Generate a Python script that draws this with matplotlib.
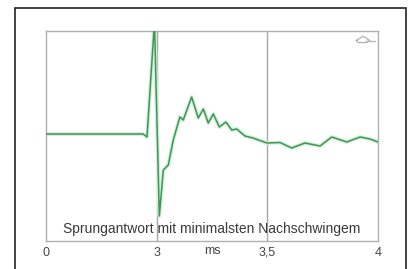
import numpy as np
import matplotlib.pyplot as plt
from matplotlib.patches import Rectangle

##-----------DATA-----------##
# time in ms, amplitude relative to the start level
time_ms = [0.0, 2.63, 2.738, 2.941, 3.012, 3.030, 3.0525, 3.075, 3.105, 3.120,
           3.158, 3.188, 3.211, 3.233, 3.256, 3.283, 3.313, 3.339, 3.362, 3.399,
           3.435, 3.498, 3.557, 3.610, 3.670, 3.738, 3.791, 3.859, 3.919, 3.964, 4.0]
amplitude = [0.0, 0.0, -0.03, 1.12, -0.82, -0.36, -0.31, -0.06, 0.17, 0.14,
             0.37, 0.16, 0.25, 0.11, 0.20, 0.07, 0.12, 0.04, 0.05, -0.02,
             -0.04, -0.09, -0.085, -0.14, -0.09, -0.12, -0.03, -0.08, -0.03, -0.05, -0.08]
tick_values = [0, 3, 3.5, 4]
tick_labels = ['0', '3', '3,5', '4']
title = 'Sprungantwort mit minimalsten Nachschwingem'

##-----------AXIS SCALE-----------##
# 0..3 ms squeezed into one third, 3..4 ms stretched over two thirds
def fwd(t):
	t = np.asarray(t, dtype=float)
	return np.where(t < 3, t / 3.0, 1 + (t - 3) * 2)
def inv(u):
	u = np.asarray(u, dtype=float)
	return np.where(u < 1, u * 3.0, 3 + (u - 1) / 2)

##-----------FIGURE-----------##
plt.rcParams['font.family'] = ['Liberation Sans', 'DejaVu Sans']
fig = plt.figure(figsize=(4.08, 2.69), dpi=100)
W, H = 408.0, 269.0
# outer frame
fig.patches.append(Rectangle((15/W, -0.05), (406-15)/W, (269-8)/H + 0.05,
	transform=fig.transFigure, fill=False, edgecolor='#222222', lw=1.2))

ax = fig.add_axes([46/W, 1 - 241/H, (378-46)/W, (241-31)/H])
ax.set_xscale('function', functions=(fwd, inv))
ax.set_xlim(0, 4)
ax.set_ylim(-1.07, 1.03)

# soft green glow and the line itself
ax.plot(time_ms, amplitude, color='#d2efd8', lw=2.8, solid_joinstyle='round', zorder=2)
ax.plot(time_ms, amplitude, color='#3f9657', lw=1.1, solid_joinstyle='round', zorder=3)

for t in [3, 3.5]:
	ax.axvline(t, color='#a8a8a8', lw=1.0, zorder=1)

for s in ax.spines.values():
	s.set_color('#b0b0b0'); s.set_linewidth(1.0)
ax.set_yticks([])
ax.set_xticks(tick_values)
ax.set_xticklabels(tick_labels)
ax.tick_params(axis='x', length=0, pad=4, labelsize=9, colors='#444444')
ax.text(0.5, -0.05, 'ms', transform=ax.transAxes, ha='center', va='center',
	fontsize=9, color='#444444')
ax.text(0.5, 0.025, title, transform=ax.transAxes, ha='center', va='bottom',
	fontsize=10, color='#3a3a3a')

# small logo in the upper right corner
ax.plot([0.935, 0.955, 0.975, 0.965, 0.94, 0.935], [0.955, 0.975, 0.955, 0.945, 0.945, 0.955],
	transform=ax.transAxes, color='#b8b8b8', lw=1.0)
ax.plot([0.965, 0.99], [0.952, 0.952], transform=ax.transAxes, color='#b8b8b8', lw=1.0)

fig.savefig('out.png', dpi=100)
